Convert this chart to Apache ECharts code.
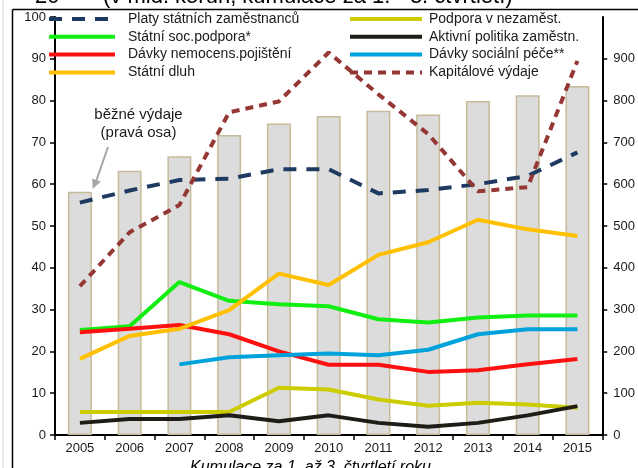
<!DOCTYPE html>
<html>
<head>
<meta charset="utf-8">
<script src="https://cdn.jsdelivr.net/npm/echarts@6/dist/echarts.min.js"></script>
<style>
html,body{margin:0;padding:0;background:#fff;}
#c{width:638px;height:468px;}
</style>
</head>
<body>
<div id="c"></div>
<script>
const years = ['2005','2006','2007','2008','2009','2010','2011','2012','2013','2014','2015'];
const bezneVydaje = [582, 632, 667, 718, 745, 763, 776, 767, 799, 813, 835];
const platy = [55.6, 58.5, 61.0, 61.3, 63.6, 63.6, 57.8, 58.6, 60.0, 62.0, 67.6];
const socPodpora = [25.1, 26.0, 36.6, 32.1, 31.3, 30.8, 27.7, 26.9, 28.1, 28.6, 28.6];
const nemocenska = [24.6, 25.4, 26.3, 24.1, 20.0, 16.8, 16.8, 15.1, 15.5, 16.9, 18.2];
const dluh = [18.2, 23.7, 25.4, 29.9, 38.6, 35.9, 43.1, 46.1, 51.5, 49.2, 47.6];
const nezamest = [5.5, 5.5, 5.5, 5.5, 11.3, 10.9, 8.5, 7.0, 7.7, 7.3, 6.5];
const aktivni = [2.9, 3.8, 3.8, 4.7, 3.3, 4.7, 2.9, 2.0, 2.9, 4.7, 6.9];
const socPece = [null, null, 16.9, 18.6, 19.1, 19.5, 19.1, 20.4, 24.1, 25.3, 25.3];
const kapital = [35.6, 48.5, 55.0, 77.2, 79.8, 91.5, 81.5, 72.0, 58.3, 59.3, 89.5];

const leftTicks = {min: 0, max: 100, interval: 10};
const rightTicks = {min: 0, max: 1000, interval: 100};

const FONT = "'Liberation Sans', Arial, sans-serif";
const TXT = '#1a1a1a';

function lineSeries(name, data, color, dash) {
  return {
    name: name, type: 'line', yAxisIndex: 0, data: data,
    symbol: 'none', smooth: false, connectNulls: false,
    lineStyle: {color: color, width: 4, type: dash || 'solid', cap: 'butt'},
    itemStyle: {color: 'rgba(0,0,0,0)', opacity: 0},
    z: 3
  };
}

const chart = echarts.init(document.getElementById('c'), null, {renderer: 'canvas'});
const legendCommon = {
  orient: 'vertical', itemHeight: 14, itemGap: 3.8, top: 12, padding: 0,
  itemStyle: {opacity: 0},
  lineStyle: {width: 4},
  selectedMode: false
};
chart.setOption({
  animation: false,
  backgroundColor: '#fff',
  textStyle: {fontFamily: FONT},
  grid: {left: 55, right: 35, top: 17, bottom: 33, containLabel: false},
  legend: [
    Object.assign({left: 47, itemWidth: 66,
      textStyle: {fontFamily: FONT, fontSize: 14, color: TXT, padding: [0, 0, 0, 8]},
      data: ['Platy státních zaměstnanců', 'Státní soc.podpora*', 'Dávky nemocens.pojištění', 'Státní dluh']}, legendCommon),
    Object.assign({left: 348, itemWidth: 72,
      textStyle: {fontFamily: FONT, fontSize: 14, color: TXT, padding: [0, 0, 0, 2]},
      data: ['Podpora v nezaměst.', 'Aktivní politika zaměstn.', 'Dávky sociální péče**', 'Kapitálové výdaje']}, legendCommon)
  ],
  xAxis: {
    type: 'category', data: years, boundaryGap: true,
    axisLine: {lineStyle: {color: '#000', width: 2}},
    axisTick: {show: true, inside: false, length: 5, lineStyle: {color: '#000', width: 1.5}},
    axisLabel: {fontFamily: FONT, fontSize: 13, color: TXT, margin: 7}
  },
  yAxis: [
    {
      type: 'value', position: 'left', min: leftTicks.min, max: leftTicks.max, interval: leftTicks.interval,
      splitLine: {show: false},
      axisLine: {show: true, lineStyle: {color: '#000', width: 2}},
      axisTick: {show: true, length: 5, lineStyle: {color: '#000', width: 1.5}},
      axisLabel: {fontFamily: FONT, fontSize: 13, color: TXT, margin: 9}
    },
    {
      type: 'value', position: 'right', min: rightTicks.min, max: rightTicks.max, interval: rightTicks.interval,
      splitLine: {show: false},
      axisLine: {show: true, lineStyle: {color: '#000', width: 2}},
      axisTick: {show: true, length: 5, lineStyle: {color: '#000', width: 1.5}},
      axisLabel: {fontFamily: FONT, fontSize: 13, color: TXT, margin: 11, showMaxLabel: false}
    }
  ],
  series: [
    {
      name: 'Běžné výdaje', type: 'bar', yAxisIndex: 1, data: bezneVydaje, barWidth: 24,
      itemStyle: {color: '#dcdcdc', borderColor: '#c6bb98', borderWidth: 1.5},
      z: 1
    },
    lineSeries('Platy státních zaměstnanců', platy, '#1f3a60', [13, 10]),
    lineSeries('Státní soc.podpora*', socPodpora, '#11ee11'),
    lineSeries('Dávky nemocens.pojištění', nemocenska, '#ff1010'),
    lineSeries('Státní dluh', dluh, '#ffc000'),
    lineSeries('Podpora v nezaměst.', nezamest, '#cccc00'),
    lineSeries('Aktivní politika zaměstn.', aktivni, '#1f1c18'),
    lineSeries('Dávky sociální péče**', socPece, '#00a2dc'),
    lineSeries('Kapitálové výdaje', kapital, '#953735', [8, 6])
  ],
  graphic: [
    {type: 'line', shape: {x1: 3, y1: 0, x2: 3, y2: 468}, style: {stroke: '#d0d0d0', lineWidth: 1}, silent: true},
    {type: 'line', shape: {x1: 12.5, y1: 9.5, x2: 638, y2: 9.5}, style: {stroke: '#000', lineWidth: 1.5}, silent: true},
    {type: 'line', shape: {x1: 12.5, y1: 9.5, x2: 12.5, y2: 468}, style: {stroke: '#000', lineWidth: 1.5}, silent: true},
    {type: 'text', left: 35, top: -14, style: {text: '20', font: '22px ' + FONT, fill: '#000'}, silent: true},
    {type: 'text', left: 103, top: -14, style: {text: '(v mld. korun, kumulace za 1. - 3. čtvrtletí)', font: '22px ' + FONT, fill: '#000'}, silent: true},
    {type: 'text', left: 190, top: 460, style: {text: 'Kumulace za 1. až 3. čtvrtletí roku', font: 'italic 16px ' + FONT, fill: '#000'}, silent: true},
    {type: 'text', style: {x: 138.5, y: 106, text: 'běžné výdaje\n(pravá osa)', font: '15px ' + FONT, fill: TXT, align: 'center', verticalAlign: 'top', lineHeight: 18}, silent: true},
    {type: 'line', shape: {x1: 108, y1: 147, x2: 96.5, y2: 180}, style: {stroke: '#a6a6a6', lineWidth: 2}, silent: true},
    {type: 'polygon', shape: {points: [[92.7, 189], [100.8, 181.5], [92.2, 178.5]]}, style: {fill: '#a6a6a6'}, silent: true}
  ]
});
</script>
</body>
</html>
